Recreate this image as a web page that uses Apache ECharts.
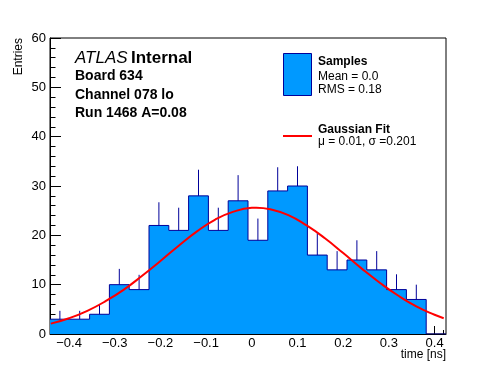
<!DOCTYPE html>
<html><head><meta charset="utf-8">
<script src="https://cdn.jsdelivr.net/npm/echarts@6/dist/echarts.min.js"></script>
<style>html,body{margin:0;padding:0;background:#fff}#c{width:496px;height:372px}</style>
</head><body><div id="c"></div>
<script>
// ---- data ----
const xMin = -0.4417, xMax = 0.425;          // histogram range (20 bins)
const counts = [3,3,4,10,9,22,21,28,21,27,19,29,30,16,13,15,13,9,7,0];
const errUp  = [1.7,1.7,2.0,3.2,3.0,4.7,4.6,5.3,4.6,5.2,4.4,4.8,4.0,4.4,3.8,4.0,3.8,3.1,3.0,0];
const fitX = [-0.44,-0.40,-0.36,-0.32,-0.28,-0.24,-0.20,-0.16,-0.12,-0.08,-0.04,0.00,0.01,0.04,0.08,0.12,0.16,0.20,0.24,0.28,0.32,0.36,0.40,0.42];
const fitY = [2.1,3.2,4.7,6.65,9.0,11.8,14.8,17.9,20.8,23.2,24.8,25.57,25.6,25.3,24.1,22.0,19.4,16.4,13.3,10.4,7.8,5.6,3.9,3.2];
const xMajorTicks = [-0.4,-0.3,-0.2,-0.1,0,0.1,0.2,0.3,0.4];
const xTickLabels = ['\u22120.4','\u22120.3','\u22120.2','\u22120.1','0','0.1','0.2','0.3','0.4'];
const xMinorTicks = [-0.44,-0.42,-0.38,-0.36,-0.34,-0.32,-0.28,-0.26,-0.24,-0.22,-0.18,-0.16,-0.14,-0.12,-0.08,-0.06,-0.04,-0.02,0.02,0.04,0.06,0.08,0.12,0.14,0.16,0.18,0.22,0.24,0.26,0.28,0.32,0.34,0.36,0.38,0.42];
const yMin = 0, yMax = 60, yStep = 10;

// ---- build ----
const FONT = 'Liberation Sans, Arial, Helvetica, sans-serif';
const bw = (xMax - xMin) / counts.length;
const stepData = counts.map((c, i) => [xMin + i * bw, c]);
stepData.push([xMax, 0]);
const errData = counts.map((c, i) => [xMin + (i + 0.5) * bw, c, errUp[i]]);
const fitData = fitX.map((x, i) => [x, fitY[i]]);

const chart = echarts.init(document.getElementById('c'), null, {renderer: 'canvas'});
chart.setOption({
  animation: false,
  backgroundColor: '#fff',
  grid: {left: 50, top: 38, width: 396, height: 296, show: true, borderColor: '#000', borderWidth: 1,
         backgroundColor: 'transparent', containLabel: false, outerBoundsMode: 'none'},
  xAxis: [{
    type: 'value', min: xMin, max: xMax, position: 'bottom',
    axisLine: {show: true, onZero: false, lineStyle: {color: '#000', width: 1}},
    axisTick: {show: true, inside: true, length: 8, customValues: xMajorTicks, lineStyle: {color: '#000'}},
    axisLabel: {show: true, customValues: xMajorTicks, color: '#000', fontSize: 13, fontFamily: FONT, margin: 3,
      formatter: v => { let k = 0, d = 1e9; xMajorTicks.forEach((t, i) => { if (Math.abs(t - v) < d) { d = Math.abs(t - v); k = i; } }); return xTickLabels[k]; }},
    splitLine: {show: false}
  }, {
    type: 'value', min: xMin, max: xMax, position: 'bottom', gridIndex: 0,
    axisLine: {show: false, onZero: false},
    axisTick: {show: true, inside: true, length: 4, customValues: xMinorTicks, lineStyle: {color: '#000'}},
    axisLabel: {show: false},
    splitLine: {show: false}
  }],
  yAxis: {
    type: 'value', min: yMin, max: yMax, interval: yStep, position: 'left',
    axisLine: {show: true, onZero: false, lineStyle: {color: '#000', width: 1}},
    axisTick: {show: true, inside: true, length: 11, lineStyle: {color: '#000'}},
    minorTick: {show: true, splitNumber: 5, length: 5.5, lineStyle: {color: '#000'}},
    axisLabel: {color: '#000', fontSize: 13, fontFamily: FONT, margin: 4},
    splitLine: {show: false}, minorSplitLine: {show: false}
  },
  series: [{
    name: 'Samples', type: 'line', step: 'end', data: stepData, showSymbol: false, symbol: 'none',
    lineStyle: {color: '#000099', width: 1}, areaStyle: {color: '#0099ff', opacity: 1, origin: 'start'},
    z: 2
  }, {
    name: 'err', type: 'custom', data: errData, z: 3,
    renderItem: (params, api) => {
      const x = api.value(0), c = api.value(1), e = api.value(2);
      if (!(e > 0)) return null;
      const p1 = api.coord([x, c]), p2 = api.coord([x, c + e]);
      return {type: 'line', shape: {x1: p1[0], y1: p1[1], x2: p2[0], y2: p2[1]},
              style: {stroke: '#000099', lineWidth: 1}};
    }
  }, {
    name: 'Gaussian Fit', type: 'line', data: fitData, smooth: true, showSymbol: false, symbol: 'none',
    lineStyle: {color: '#ff0000', width: 2}, z: 4
  }],
  graphic: [
    {type: 'text', x: 19, y: 38, rotation: Math.PI / 2,
     style: {text: 'Entries', font: '12px ' + FONT, fill: '#000', align: 'right', verticalAlign: 'middle'}},
    {type: 'text', x: 446, y: 355,
     style: {text: 'time [ns]', font: '12px ' + FONT, fill: '#000', align: 'right', verticalAlign: 'middle'}},
    {type: 'text', x: 75, y: 58,
     style: {text: '{a|ATLAS} {b|Internal}', align: 'left', verticalAlign: 'middle',
       rich: {a: {fontFamily: FONT, fontSize: 17, fontStyle: 'italic', fill: '#000'},
              b: {fontFamily: FONT, fontSize: 17, fontWeight: 'bold', fill: '#000'}}}},
    {type: 'text', x: 75, y: 76, style: {text: 'Board 634', font: 'bold 14px ' + FONT, fill: '#000', verticalAlign: 'middle'}},
    {type: 'text', x: 75, y: 95, style: {text: 'Channel 078 lo', font: 'bold 14px ' + FONT, fill: '#000', verticalAlign: 'middle'}},
    {type: 'text', x: 75, y: 113, style: {text: 'Run 1468 A=0.08', font: 'bold 14px ' + FONT, fill: '#000', verticalAlign: 'middle'}},
    {type: 'rect', shape: {x: 283.5, y: 53.5, width: 28, height: 42}, style: {fill: '#0099ff', stroke: '#000099', lineWidth: 1}},
    {type: 'text', x: 318, y: 61.5, style: {text: 'Samples', font: 'bold 12px ' + FONT, fill: '#000', verticalAlign: 'middle'}},
    {type: 'text', x: 318, y: 76.5, style: {text: 'Mean = 0.0', font: '12px ' + FONT, fill: '#000', verticalAlign: 'middle'}},
    {type: 'text', x: 318, y: 89.5, style: {text: 'RMS = 0.18', font: '12px ' + FONT, fill: '#000', verticalAlign: 'middle'}},
    {type: 'line', shape: {x1: 283, y1: 136, x2: 312, y2: 136}, style: {stroke: '#ff0000', lineWidth: 2}},
    {type: 'text', x: 318, y: 129.5, style: {text: 'Gaussian Fit', font: 'bold 12px ' + FONT, fill: '#000', verticalAlign: 'middle'}},
    {type: 'text', x: 318, y: 141.5, style: {text: '\u03bc = 0.01, \u03c3 =0.201', font: '12px ' + FONT, fill: '#000', verticalAlign: 'middle'}}
  ]
});
</script></body></html>
